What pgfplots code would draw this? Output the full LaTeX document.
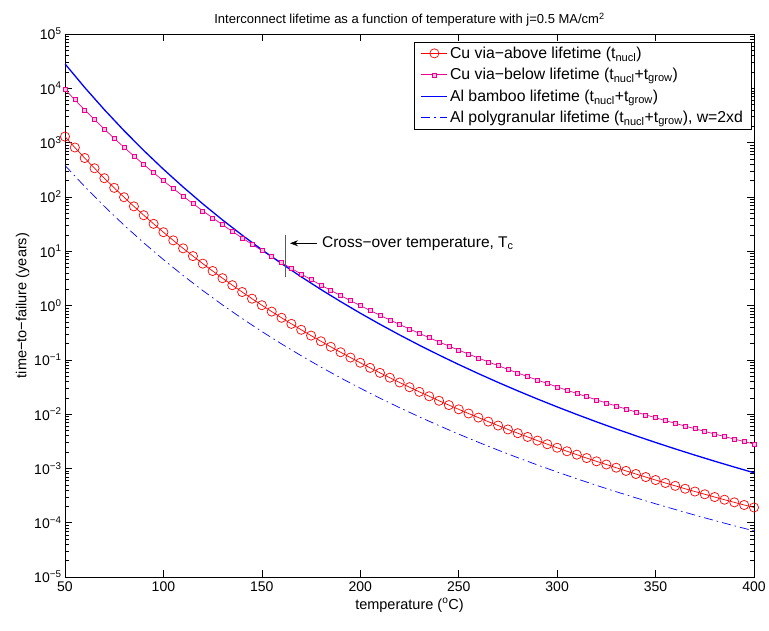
\documentclass[border=0pt]{standalone}
\usepackage{fontspec}
\setmainfont{Liberation Sans}
\usepackage{pgfplots}
\pgfplotsset{compat=1.18}
\usetikzlibrary{arrows.meta}

\begin{document}
\begin{tikzpicture}
\path[use as bounding box] (-65pt,-53pt) rectangle (704pt,577pt);
\begin{axis}[
  at={(0pt,0pt)}, anchor=south west,
  scale only axis, width=689pt, height=543pt,
  ymode=log, xmin=50, xmax=400, ymin=1e-5, ymax=1e5,
  xtick={50,100,150,200,250,300,350,400},
  ytick={1e-5,1e-4,1e-3,1e-2,1e-1,1,1e1,1e2,1e3,1e4,1e5},
  yticklabels={10\textsuperscript{−5},10\textsuperscript{−4},10\textsuperscript{−3},10\textsuperscript{−2},10\textsuperscript{−1},10\textsuperscript{0},10\textsuperscript{1},10\textsuperscript{2},10\textsuperscript{3},10\textsuperscript{4},10\textsuperscript{5}},
  /pgf/number format/assume math mode=true,
  tick align=inside,
  xtick pos=both, ytick pos=both,
  major tick length=7pt, minor tick length=4pt,
  tick style={black, line width=0.5pt},
  axis line style={black, line width=0.8pt},
  tick label style={font=\fontsize{14}{16}\selectfont},
  xticklabel style={yshift=-1pt},
  label style={font=\fontsize{14.5}{16}\selectfont},
  ylabel style={yshift=-2pt},
  title style={font=\fontsize{13}{15}\selectfont, yshift=-2pt},
  title={Interconnect lifetime as a function of temperature with j=0.5 MA/cm\textsuperscript{2}},
  xlabel={temperature (\textsuperscript{o}C)},
  ylabel={time−to−failure (years)},
  legend style={at={(0.996,0.986)}, anchor=north east, draw=black, line width=0.6pt, fill=white,
    font=\fontsize{15.8}{18}\selectfont, cells={anchor=west}, row sep=4.5pt, inner xsep=6pt, inner ysep=3pt},
  legend image code/.code={\draw[mark repeat=2,mark phase=2,#1] plot coordinates {(0pt,0pt) (13pt,0pt) (26pt,0pt)};},
]
\addplot[red, line width=0.7pt, mark=o, mark size=4.6pt, mark options={solid, line width=0.7pt}] coordinates {
(50,1290) (55,813) (60,520) (65,337) (70,221) (75,146.8) (80,98.65) (85,67.0) (90,46.0) (95,31.9)
(100,22.38) (105,15.83) (110,11.29) (115,8.13) (120,5.903) (125,4.320) (130,3.186) (135,2.368) (140,1.771) (145,1.335)
(150,1.013) (155,0.773) (160,0.594) (165,0.459) (170,0.357) (175,0.279) (180,0.2195) (185,0.1734) (190,0.1378) (195,0.1100)
(200,0.0882) (205,0.0711) (210,0.0575) (215,0.0468) (220,0.0382) (225,0.0313) (230,0.0257) (235,0.0213) (240,0.0176) (245,0.01466)
(250,0.01225) (255,0.01026) (260,0.00863) (265,0.00727) (270,0.00616) (275,0.00522) (280,0.00445) (285,0.00380) (290,0.00325) (295,0.00279)
(300,0.00240) (305,0.00207) (310,0.00179) (315,0.00155) (320,0.00135) (325,0.00118) (330,0.00103) (335,0.000899) (340,0.000789) (345,0.000693)
(350,0.000611) (355,0.000539) (360,0.000477) (365,0.000422) (370,0.000375) (375,0.000334) (380,0.000297) (385,0.000265) (390,0.000237) (395,0.000212)
(400,0.000191)
};
\addlegendentry{Cu via−above lifetime (t\textsubscript{nucl})}
\addplot[magenta, line width=0.7pt, mark=square*, mark size=2pt, mark options={solid, fill=magenta!25, draw=magenta, line width=0.6pt}] coordinates {
(50,9550) (55,6146) (60,4009) (65,2647) (70,1770) (75,1197) (80,818.5) (85,565.5) (90,394.8) (95,278.3)
(100,198.1) (105,142.3) (110,103.0) (115,75.2) (120,55.4) (125,41.1) (130,30.7) (135,23.1) (140,17.5) (145,13.4)
(150,10.27) (155,7.936) (160,6.168) (165,4.822) (170,3.790) (175,2.996) (180,2.379) (185,1.900) (190,1.525) (195,1.229)
(200,0.995) (205,0.809) (210,0.661) (215,0.542) (220,0.447) (225,0.369) (230,0.3065) (235,0.2553) (240,0.2134) (245,0.1790)
(250,0.1507) (255,0.1273) (260,0.1078) (265,0.0916) (270,0.0781) (275,0.0667) (280,0.0572) (285,0.0491) (290,0.0423) (295,0.0366)
(300,0.0317) (305,0.0275) (310,0.0240) (315,0.0209) (320,0.0183) (325,0.0160) (330,0.0141) (335,0.0124) (340,0.01094) (345,0.00967)
(350,0.00857) (355,0.00761) (360,0.00676) (365,0.00602) (370,0.00538) (375,0.00480) (380,0.00430) (385,0.00386) (390,0.00347) (395,0.00312)
(400,0.00281)
};
\addlegendentry{Cu via−below lifetime (t\textsubscript{nucl}+t\textsubscript{grow})}
\addplot[blue, line width=1.3pt, no marks] coordinates {
(50,28180) (60,10360) (70,4036) (80,1659) (90,715.6) (100,323.1) (110,152.1) (120,74.35) (130,37.69) (140,19.74)
(150,10.65) (160,5.917) (170,3.375) (180,1.973) (190,1.181) (200,0.7224) (210,0.4508) (220,0.2869) (230,0.1858) (240,0.1224)
(250,0.08190) (260,0.05567) (270,0.03837) (280,0.02680) (290,0.01897) (300,0.01358) (310,0.009840) (320,0.007205) (330,0.005330) (340,0.003983)
(350,0.003004) (360,0.002286) (370,0.001755) (380,0.001358) (390,0.001059) (400,0.000832)
};
\addlegendentry{Al bamboo lifetime (t\textsubscript{nucl}+t\textsubscript{grow})}
\addplot[blue, line width=0.7pt, no marks, dash pattern=on 9pt off 4pt on 1.5pt off 4pt] coordinates {
(50,380.2) (60,155.4) (70,66.93) (80,30.22) (90,14.26) (100,7.005) (110,3.572) (120,1.885) (130,1.026) (140,0.5756)
(150,0.3319) (160,0.1962) (170,0.1188) (180,0.07353) (190,0.04646) (200,0.02995) (210,0.01965) (220,0.01311) (230,0.008897) (240,0.006128)
(250,0.004279) (260,0.003030) (270,0.002172) (280,0.001576) (290,0.001157) (300,0.000859) (310,0.000644) (320,0.000487) (330,0.000372) (340,0.000287)
(350,0.000223) (360,0.000175) (370,0.000138) (380,0.0001096) (390,0.0000877) (400,0.0000707)
};
\addlegendentry{Al polygranular lifetime (t\textsubscript{nucl}+t\textsubscript{grow}), w=2xd}
\draw[black!65, line width=1pt] (axis cs:162,3.3) -- (axis cs:162,20);
\draw[black, line width=0.7pt, -{Stealth[length=8pt,width=6pt]}] (axis cs:178,14) -- (axis cs:164.3,14);
\node[anchor=west, font=\fontsize{15.5}{17}\selectfont, inner sep=0pt] at (axis cs:180.5,14) {Cross−over temperature, T\textsubscript{c}};
\end{axis}
\end{tikzpicture}
\end{document}
